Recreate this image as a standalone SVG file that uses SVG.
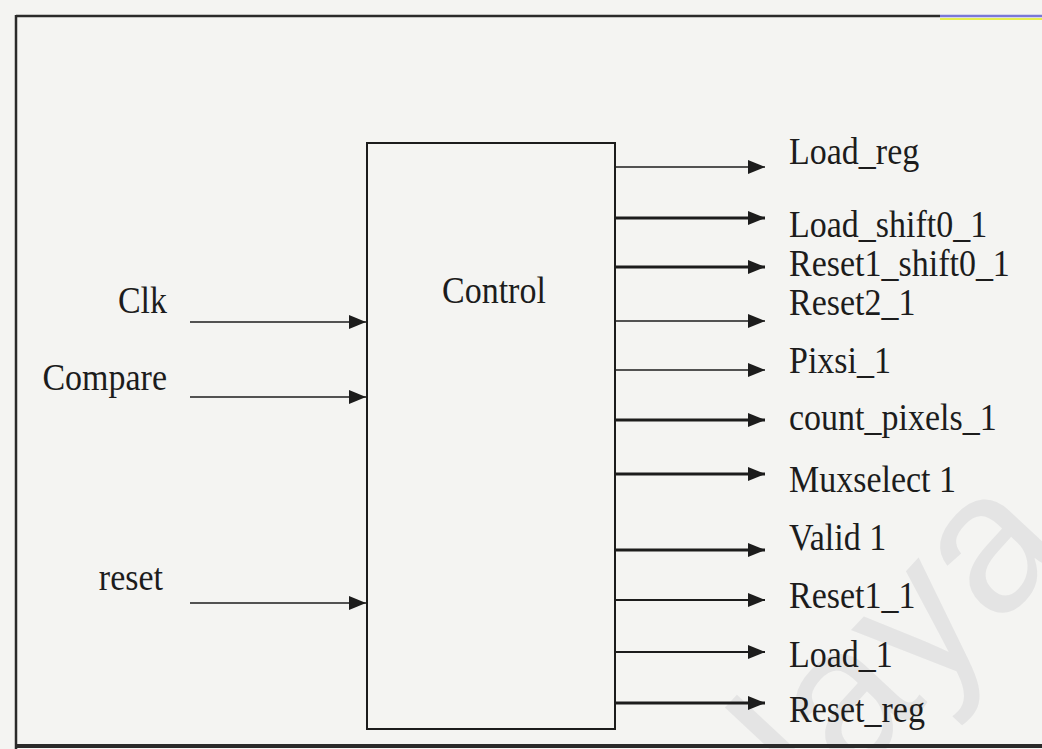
<svg xmlns="http://www.w3.org/2000/svg" width="1042" height="749" viewBox="0 0 1042 749">
<style>
.t{font-family:"Liberation Serif","Times New Roman",serif;font-size:34px;fill:#1c1c1c}
.c{stroke:#1c1c1c;fill:none}
.thin{stroke-width:1.6}
.mid{stroke-width:2.2}
.thick{stroke-width:2.8}
.wm{font-family:"Liberation Sans",Arial,sans-serif;font-size:200px;fill:#e4e4e4}
</style>
<defs>
<marker id="ah" markerUnits="userSpaceOnUse" markerWidth="18" markerHeight="14" refX="17" refY="7" orient="auto">
<path d="M0,0 L17,7 L0,14 Z" fill="#1c1c1c"/>
</marker>
</defs>
<rect x="0" y="0" width="1042" height="749" fill="#f4f4f2"/>
<text class="wm" transform="translate(1072,548) rotate(-47)" text-anchor="end">Malaya</text>
<g id="frame">
<line x1="16" y1="16" x2="940" y2="16" stroke="#2a2a2a" stroke-width="2.5"/>
<line x1="940" y1="16" x2="1042" y2="16" stroke="#7a78d8" stroke-width="2.5"/>
<line x1="940" y1="19" x2="1042" y2="19" stroke="#e6ee50" stroke-width="2"/>
<line x1="16" y1="15" x2="16" y2="749" stroke="#2a2a2a" stroke-width="2.5"/>
<line x1="16" y1="746" x2="1042" y2="746" stroke="#2a2a2a" stroke-width="4"/>
</g>
<g id="control">
<rect x="367" y="143" width="248" height="586" fill="none" stroke="#1c1c1c" stroke-width="2"/>
<text class="t" transform="translate(442,303) scale(1,1.12)">Control</text>
</g>
<g id="in-clk"><text class="t" transform="translate(167,313) scale(1,1.12)" text-anchor="end">Clk</text></g>
<g id="in-compare"><text class="t" transform="translate(167,390) scale(1,1.12)" text-anchor="end">Compare</text></g>
<g id="in-reset"><text class="t" transform="translate(163,590) scale(1,1.12)" text-anchor="end">reset</text></g>
<g id="out-load_reg"><text class="t" transform="translate(789,164) scale(1,1.12)">Load_reg</text></g>
<g id="out-load_shift0_1"><text class="t" transform="translate(789,237) scale(1,1.12)">Load_shift0_1</text></g>
<g id="out-reset1_shift0_1"><text class="t" transform="translate(789,276) scale(1,1.12)">Reset1_shift0_1</text></g>
<g id="out-reset2_1"><text class="t" transform="translate(789,315) scale(1,1.12)">Reset2_1</text></g>
<g id="out-pixsi_1"><text class="t" transform="translate(789,373) scale(1,1.12)">Pixsi_1</text></g>
<g id="out-count_pixels_1"><text class="t" transform="translate(789,430) scale(1,1.12)">count_pixels_1</text></g>
<g id="out-muxselect_1"><text class="t" transform="translate(789,492) scale(1,1.12)">Muxselect 1</text></g>
<g id="out-valid_1"><text class="t" transform="translate(789,550) scale(1,1.12)">Valid 1</text></g>
<g id="out-reset1_1"><text class="t" transform="translate(789,608) scale(1,1.12)">Reset1_1</text></g>
<g id="out-load_1"><text class="t" transform="translate(789,667) scale(1,1.12)">Load_1</text></g>
<g id="out-reset_reg"><text class="t" transform="translate(789,722) scale(1,1.12)">Reset_reg</text></g>
<g id="connectors">
<line class="c thin" x1="190" y1="322" x2="366" y2="322" marker-end="url(#ah)"/>
<line class="c thin" x1="190" y1="397" x2="366" y2="397" marker-end="url(#ah)"/>
<line class="c thin" x1="190" y1="603" x2="366" y2="603" marker-end="url(#ah)"/>
<line class="c thin" x1="615" y1="167" x2="765" y2="167" marker-end="url(#ah)"/>
<line class="c thick" x1="615" y1="218" x2="765" y2="218" marker-end="url(#ah)"/>
<line class="c thick" x1="615" y1="267" x2="765" y2="267" marker-end="url(#ah)"/>
<line class="c thin" x1="615" y1="321" x2="765" y2="321" marker-end="url(#ah)"/>
<line class="c thin" x1="615" y1="370" x2="765" y2="370" marker-end="url(#ah)"/>
<line class="c thick" x1="615" y1="420" x2="765" y2="420" marker-end="url(#ah)"/>
<line class="c thick" x1="615" y1="474" x2="765" y2="474" marker-end="url(#ah)"/>
<line class="c thick" x1="615" y1="550" x2="765" y2="550" marker-end="url(#ah)"/>
<line class="c mid" x1="615" y1="600" x2="765" y2="600" marker-end="url(#ah)"/>
<line class="c mid" x1="615" y1="652" x2="765" y2="652" marker-end="url(#ah)"/>
<line class="c thick" x1="615" y1="703" x2="765" y2="703" marker-end="url(#ah)"/>
</g>
</svg>
